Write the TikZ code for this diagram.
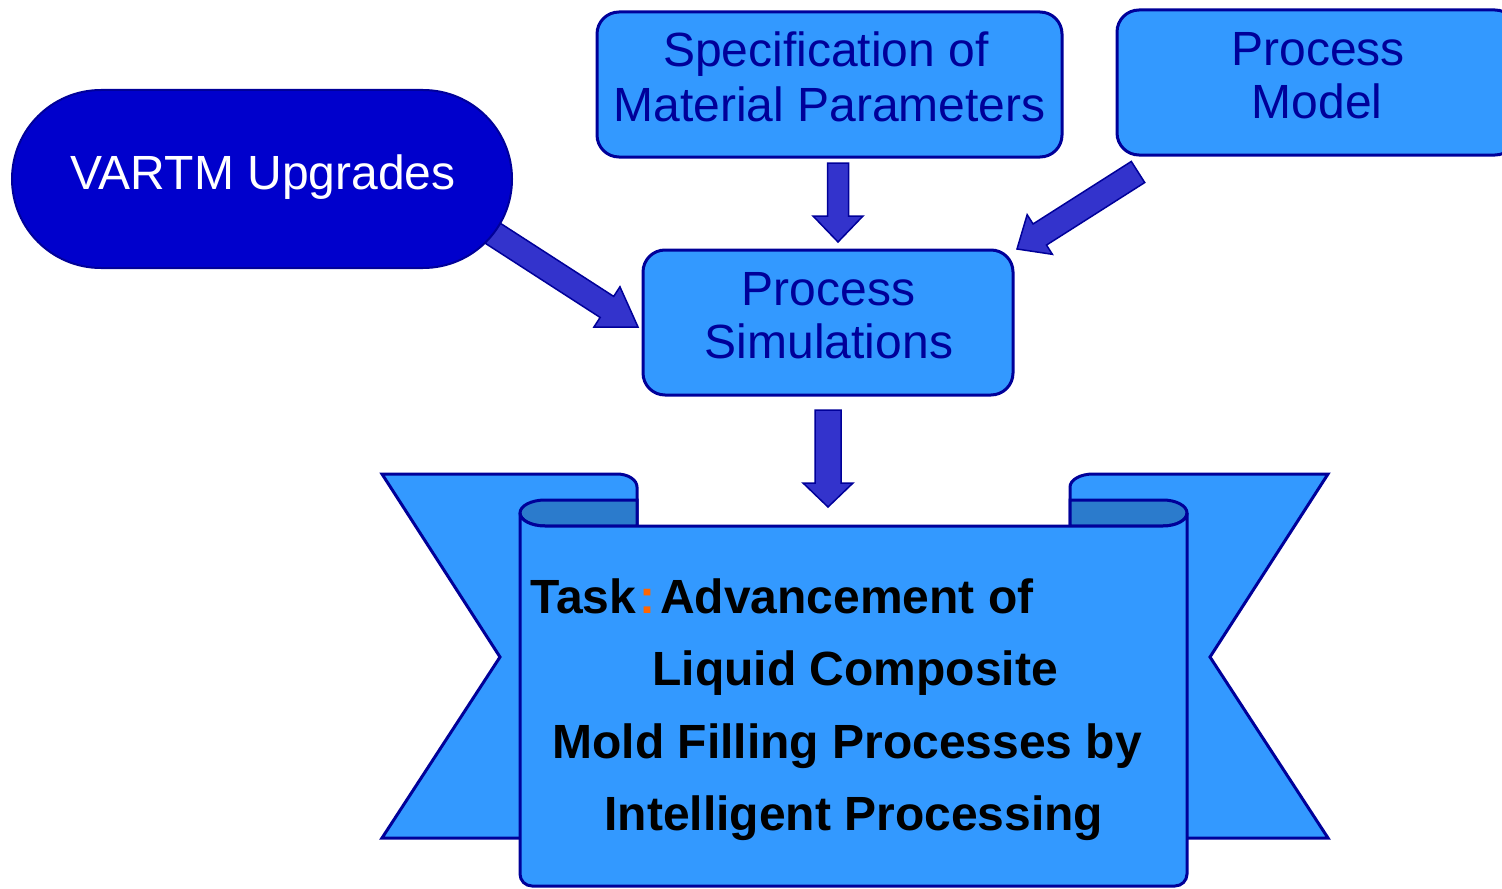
\documentclass[tikz,border=0pt]{standalone}
\usepackage{fontspec}
\setmainfont{Liberation Sans}
\usetikzlibrary{calc,shapes.misc}
\definecolor{lightblue}{HTML}{3399FF}
\definecolor{shadeblue}{HTML}{2B7BCC}
\definecolor{navy}{HTML}{000099}
\definecolor{royal}{HTML}{0000CC}
\definecolor{arrowblue}{HTML}{3333CC}
\definecolor{colonorange}{HTML}{FF6600}
% #1 tail, #2 tip, #3 shaft half width, #4 head half width, #5 head length
\newcommand{\fatarrow}[5]{%
  \path ($(#2)!#5!(#1)$) coordinate (fahead);
  \filldraw[fatarr] ($(#1)!#3!90:(#2)$) -- ($(fahead)!#3!-90:(#1)$) --
    ($(fahead)!#4!-90:(#1)$) -- (#2) -- ($(fahead)!#4!90:(#1)$) --
    ($(fahead)!#3!90:(#1)$) -- ($(#1)!#3!-90:(#2)$) -- cycle;}
\begin{document}
\begin{tikzpicture}[x=0.5pt,y=-0.5pt,
  box/.style={draw=navy, fill=lightblue, line width=1.5pt, rounded corners=11pt,
    minimum height=72.5pt, inner sep=0pt},
  boxtext/.style={text=navy, font=\fontsize{24}{28}\selectfont, anchor=base, inner sep=0pt},
  fatarr/.style={fill=arrowblue, draw=navy, line width=0.75pt, line join=miter},
  ribbon/.style={fill=lightblue, draw=navy, line width=1.5pt, line join=miter},
  fold/.style={fill=shadeblue, draw=navy, line width=1.5pt},
  tasktext/.style={font=\bfseries\fontsize{24}{28}\selectfont, anchor=base west, inner sep=0pt}]
\useasboundingbox (0,0) rectangle (1502,888);

% ---------- banner ----------
% left wing
\draw[ribbon] (382,474) -- (617,474) arc[start angle=90, end angle=0, x radius=10pt, y radius=6.5pt]
  -- (637,838) -- (382,838) -- (500,657) -- cycle;
% right wing
\draw[ribbon] (1328,474) -- (1093,474) arc[start angle=90, end angle=180, x radius=11.5pt, y radius=6.5pt]
  -- (1070,838) -- (1328,838) -- (1210,657) -- cycle;
% left fold
\draw[fold] (520,513) arc[start angle=180, end angle=90, x radius=12.5pt, y radius=6.5pt]
  -- (637,500) -- (637,526) -- (545,526)
  arc[start angle=270, end angle=180, x radius=12.5pt, y radius=6.5pt] -- cycle;
% right fold
\draw[fold] (1070,500) -- (1163,500) arc[start angle=90, end angle=-90, x radius=12pt, y radius=6.5pt]
  -- (1070,526) -- cycle;
% front panel
\draw[ribbon] (520,513) -- (520,874) arc[start angle=180, end angle=270, radius=6pt]
  -- (1175,886) arc[start angle=270, end angle=360, radius=6pt]
  -- (1187,513) arc[start angle=0, end angle=-90, x radius=12pt, y radius=6.5pt]
  -- (545,526) arc[start angle=270, end angle=180, x radius=12.5pt, y radius=6.5pt] -- cycle;

\node[tasktext] (t1) at (530,613) {Task\hspace{1.5pt}{\color{colonorange}:}\hspace{2.5pt}Advancement of};
\node[tasktext] (t2) at (652,685.5) {Liquid Composite};
\node[tasktext] (t3) at (552,758) {Mold Filling Processes by};
\node[tasktext] (t4) at (604,830.5) {Intelligent Processing};

% ---------- boxes ----------
\node[box, minimum width=232.5pt] (spec) at (829.5,84.5) {};
\node[box, minimum width=200pt] (pm) at (1317,82.5) {};
\node[box, minimum width=185pt] (sim) at (828,322.5) {};

\node[boxtext] (spec1) at (826,66.7) {Specification of};
\node[boxtext] (spec2) at (829.5,121) {Material Parameters};
\node[boxtext] (pm1) at (1318,65.7) {Process};
\node[boxtext] (pm2) at (1317,119) {Model};
\node[boxtext] (sim1) at (828.5,305) {Process};
\node[boxtext] (sim2) at (829,358) {Simulations};

% ---------- arrows ----------
\coordinate (a1t) at (838,163);  \coordinate (a1h) at (838,242);
\coordinate (a2t) at (828,410);  \coordinate (a2h) at (828,507);
\coordinate (a3t) at (480,225);  \coordinate (a3h) at (638,327);
\coordinate (a4t) at (1138,172); \coordinate (a4h) at (1017,249);
\fatarrow{a1t}{a1h}{5.25pt}{12.5pt}{13pt}
\fatarrow{a2t}{a2h}{6.5pt}{12.5pt}{12pt}
\fatarrow{a3t}{a3h}{6.25pt}{12pt}{18.5pt}
\fatarrow{a4t}{a4h}{6.25pt}{11.75pt}{13.5pt}

% ---------- VARTM ----------
\node[rounded rectangle, draw=navy, fill=royal, line width=1pt,
  minimum width=250pt, minimum height=89pt, inner sep=0pt] (vartm) at (262,179) {};
\node[boxtext, text=white] (vartmtext) at (263,189) {VARTM Upgrades};
\end{tikzpicture}
\end{document}
